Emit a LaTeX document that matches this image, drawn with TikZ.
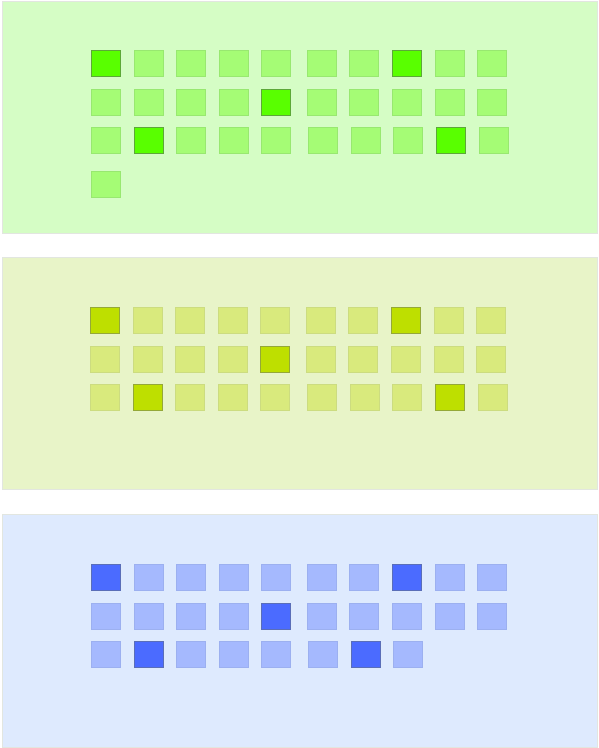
\documentclass[tikz,border=0pt]{standalone}
\definecolor{bgA}{HTML}{D5FDC5}
\definecolor{liA}{HTML}{A5FC75}
\definecolor{dkA}{HTML}{59FF00}
\definecolor{bdA}{HTML}{98E870}
\definecolor{dbA}{HTML}{5CA838}
\definecolor{bgB}{HTML}{E8F4C8}
\definecolor{liB}{HTML}{D9EA7D}
\definecolor{dkB}{HTML}{BEDF00}
\definecolor{bdB}{HTML}{CCDC80}
\definecolor{dbB}{HTML}{94A838}
\definecolor{bgC}{HTML}{DEEAFE}
\definecolor{liC}{HTML}{A5B9FE}
\definecolor{dkC}{HTML}{4B6BFF}
\definecolor{bdC}{HTML}{9CB0F0}
\definecolor{dbC}{HTML}{5A6EB8}
\definecolor{frame}{HTML}{E2E6E0}
\tikzset{
  panel/.style={draw=frame, line width=0.6pt},
  sq/.style={rectangle, inner sep=0pt, outer sep=0pt, anchor=north west,
    minimum width=29.5pt, minimum height=25.5pt, line width=0.6pt},
}
\begin{document}
\begin{tikzpicture}[x=1pt,y=-1pt]
\useasboundingbox (0,0) rectangle (598,748);
\fill[white] (0,0) rectangle (598,748);
% panels
\draw[panel, fill=bgA] (2,1) rectangle (597,233);
\draw[panel, fill=bgB] (2,257) rectangle (597,489);
\draw[panel, fill=bgC] (2,514) rectangle (597,747);
% panel A
\foreach \x [count=\i] in {91,134,176,219,261,307,349,392,435,477}{
  \node[sq, fill=liA, draw=bdA] (a1-\i) at (\x,50.5) {};
  \node[sq, fill=liA, draw=bdA] (a2-\i) at (\x,89.5) {};
}
\foreach \x [count=\i] in {91,134,176,219,261,308,351,393,436,479}{
  \node[sq, fill=liA, draw=bdA] (a3-\i) at (\x,127.5) {};
}
\node[sq, fill=liA, draw=bdA] (a4-1) at (91,171.5) {};
\node[sq, fill=dkA, draw=dbA] (a1-1d) at (91,50.5) {};
\node[sq, fill=dkA, draw=dbA] (a1-8d) at (392,50.5) {};
\node[sq, fill=dkA, draw=dbA] (a2-5d) at (261,89.5) {};
\node[sq, fill=dkA, draw=dbA] (a3-2d) at (134,127.5) {};
\node[sq, fill=dkA, draw=dbA] (a3-9d) at (436,127.5) {};
% panel B
\foreach \x [count=\i] in {90,133,175,218,260,306,348,391,434,476}{
  \node[sq, fill=liB, draw=bdB] (b1-\i) at (\x,307.5) {};
  \node[sq, fill=liB, draw=bdB] (b2-\i) at (\x,346.5) {};
}
\foreach \x [count=\i] in {90,133,175,218,260,307,350,392,435,478}{
  \node[sq, fill=liB, draw=bdB] (b3-\i) at (\x,384.5) {};
}
\node[sq, fill=dkB, draw=dbB] (b1-1d) at (90,307.5) {};
\node[sq, fill=dkB, draw=dbB] (b1-8d) at (391,307.5) {};
\node[sq, fill=dkB, draw=dbB] (b2-5d) at (260,346.5) {};
\node[sq, fill=dkB, draw=dbB] (b3-2d) at (133,384.5) {};
\node[sq, fill=dkB, draw=dbB] (b3-9d) at (435,384.5) {};
% panel C
\foreach \x [count=\i] in {91,134,176,219,261,307,349,392,435,477}{
  \node[sq, fill=liC, draw=bdC] (c1-\i) at (\x,564.5) {};
  \node[sq, fill=liC, draw=bdC] (c2-\i) at (\x,603.5) {};
}
\foreach \x [count=\i] in {91,134,176,219,261,308,351,393}{
  \node[sq, fill=liC, draw=bdC] (c3-\i) at (\x,641.5) {};
}
\node[sq, fill=dkC, draw=dbC] (c1-1d) at (91,564.5) {};
\node[sq, fill=dkC, draw=dbC] (c1-8d) at (392,564.5) {};
\node[sq, fill=dkC, draw=dbC] (c2-5d) at (261,603.5) {};
\node[sq, fill=dkC, draw=dbC] (c3-2d) at (134,641.5) {};
\node[sq, fill=dkC, draw=dbC] (c3-7d) at (351,641.5) {};
\end{tikzpicture}
\end{document}
